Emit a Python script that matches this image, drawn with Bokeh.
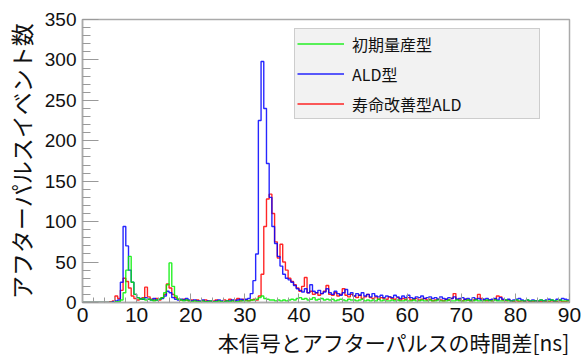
from bokeh.plotting import figure
from bokeh.models import Legend, LegendItem, Range1d, Title, FixedTicker
from bokeh.embed import file_html
from bokeh.resources import INLINE

# Histogram: 0.5 ns bins from 0 to 90 ns
bin_width = 0.5
x_min, x_max = 0, 90

series_names = ["初期量産型", "ALD型", "寿命改善型ALD"]

counts_initial = [
    0, 0, 0, 0, 0, 0, 0, 0, 0, 0,
    0, 0, 1, 1, 3, 12, 40, 57, 25, 10,
    6, 4, 5, 3, 4, 3, 2, 3, 4, 6,
    12, 22, 49, 20, 8, 4, 3, 2, 3, 2,
    1, 2, 1, 1, 2, 1, 1, 2, 1, 1,
    2, 1, 1, 2, 1, 2, 1, 1, 2, 2,
    2, 2, 3, 3, 4, 6, 8, 5, 4, 3,
    3, 2, 3, 2, 3, 2, 3, 4, 3, 5,
    6, 4, 5, 3, 4, 6, 3, 4, 5, 3,
    4, 3, 4, 2, 3, 4, 3, 2, 4, 3,
    3, 2, 3, 4, 2, 3, 2, 3, 2, 4,
    2, 3, 2, 2, 3, 2, 3, 2, 2, 3,
    2, 2, 3, 2, 2, 3, 2, 2, 3, 2,
    2, 3, 2, 2, 2, 3, 2, 2, 3, 2,
    2, 2, 3, 2, 2, 3, 2, 2, 2, 3,
    2, 2, 3, 2, 2, 2, 3, 2, 2, 2,
    3, 2, 2, 2, 3, 2, 2, 2, 2, 3,
    2, 2, 2, 3, 2, 2, 3, 2, 2, 2,
]

counts_ald = [
    0, 0, 0, 0, 0, 0, 0, 0, 0, 0,
    0, 1, 2, 3, 25, 94, 70, 40, 25, 10,
    6, 5, 4, 6, 4, 3, 5, 3, 4, 5,
    8, 14, 12, 6, 4, 3, 4, 3, 5, 3,
    2, 3, 2, 2, 3, 1, 2, 2, 1, 2,
    3, 2, 1, 2, 2, 3, 2, 3, 4, 3,
    4, 5, 11, 27, 60, 225, 298, 240, 172, 130,
    94, 73, 57, 45, 35, 30, 28, 25, 21, 17,
    15, 13, 17, 12, 22, 14, 12, 15, 11, 13,
    17, 12, 10, 14, 11, 9, 12, 16, 10, 12,
    8, 11, 9, 12, 8, 10, 7, 11, 8, 7,
    9, 6, 8, 7, 6, 9, 7, 5, 8, 6,
    9, 6, 5, 7, 6, 8, 5, 6, 7, 5,
    6, 4, 7, 5, 4, 6, 5, 7, 4, 5,
    6, 4, 5, 3, 6, 4, 5, 3, 4, 5,
    3, 4, 5, 3, 6, 4, 3, 4, 2, 3,
    4, 5, 3, 2, 3, 2, 3, 2, 2, 3,
    2, 3, 4, 3, 2, 4, 3, 5, 4, 3,
]

counts_improved = [
    0, 0, 0, 0, 0, 0, 0, 0, 0, 0,
    1, 2, 8, 5, 15, 30, 26, 18, 8, 5,
    3, 4, 6, 19, 7, 4, 3, 5, 3, 6,
    10, 23, 18, 10, 6, 4, 3, 4, 3, 2,
    3, 2, 3, 1, 2, 3, 2, 1, 2, 3,
    2, 1, 3, 2, 4, 2, 3, 5, 2, 4,
    3, 2, 3, 4, 3, 8, 35, 94, 128, 134,
    110, 75, 55, 72, 50, 40, 30, 26, 22, 18,
    14, 20, 31, 12, 14, 10, 12, 9, 11, 14,
    21, 10, 9, 12, 8, 10, 17, 9, 7, 10,
    8, 6, 9, 5, 7, 10, 6, 5, 7, 4,
    6, 5, 4, 7, 5, 4, 6, 3, 5, 4,
    6, 3, 4, 5, 3, 4, 5, 3, 4, 2,
    3, 4, 3, 2, 4, 3, 5, 11, 4, 3,
    2, 4, 3, 2, 3, 4, 10, 5, 3, 2,
    3, 2, 4, 8, 7, 3, 2, 3, 2, 1,
    2, 1, 2, 1, 2, 1, 1, 2, 1, 1,
    2, 1, 1, 2, 1, 1, 2, 1, 1, 2,
]

colors = ["#00ee00", "#0000ff", "#ff0000"]

y_ticks = [0, 50, 100, 150, 200, 250, 300, 350]
x_ticks = [0, 10, 20, 30, 40, 50, 60, 70, 80, 90]

p = figure(width=583, height=356, output_backend="svg", toolbar_location=None,
           x_range=Range1d(x_min, x_max), y_range=Range1d(0, 350),
           min_border_left=79, min_border_right=14, min_border_top=19,
           min_border_bottom=49)
p.background_fill_color = "white"
p.border_fill_color = "white"
p.outline_line_color = "#aaaaaa"
p.outline_line_width = 1.5
p.xgrid.visible = False
p.ygrid.visible = False

def edges_and_steps(counts):
    xs = [x_min + i * bin_width for i in range(len(counts) + 1)]
    ys = list(counts) + [counts[-1]]
    return xs, ys

renderers = {}
# drawing order: red, blue, green (green on top)
for idx in [2, 1, 0]:
    c = [counts_initial, counts_ald, counts_improved][idx]
    xs, ys = edges_and_steps(c)
    r = p.step(xs, ys, mode="after", line_color=colors[idx], line_width=1.4,
               line_alpha=0.85)
    renderers[idx] = r

legend = Legend(items=[LegendItem(label=series_names[i], renderers=[renderers[i]])
                       for i in range(3)])
legend.location = (212, 183)
legend.background_fill_color = "#f2f2f2"
legend.background_fill_alpha = 1.0
legend.border_line_color = "#a8a8a8"
legend.border_line_width = 1
legend.padding = 2
legend.margin = 0
legend.spacing = 5
legend.label_height = 25
legend.glyph_height = 25
legend.glyph_width = 47
legend.label_standoff = 8
legend.label_width = 185
legend.label_text_font = "Noto Sans CJK JP"
legend.label_text_font_size = "16px"
legend.label_text_color = "#111111"
p.add_layout(legend)

# axes styling
for ax in [p.xaxis[0], p.yaxis[0]]:
    ax.axis_line_color = "#aaaaaa"
    ax.axis_line_width = 1.5
    ax.major_tick_line_color = "#999999"
    ax.minor_tick_line_color = "#999999"
    ax.major_tick_out = 0
    ax.minor_tick_out = 0
    ax.major_label_text_font = "Liberation Sans"
    ax.major_label_text_color = "#111111"

p.yaxis.ticker = FixedTicker(ticks=y_ticks,
                             minor_ticks=[v for v in range(0, 351, 10)])
p.xaxis.ticker = FixedTicker(ticks=x_ticks,
                             minor_ticks=[v for v in range(0, 91, 2)])
p.yaxis.major_tick_in = 16
p.yaxis.minor_tick_in = 8
p.xaxis.major_tick_in = 9
p.xaxis.minor_tick_in = 5
p.yaxis.major_label_text_font_size = "19px"
p.xaxis.major_label_text_font_size = "21px"
p.yaxis.major_label_standoff = 6
p.xaxis.major_label_standoff = 5

p.yaxis.axis_label = "アフターパルスイベント数"
p.yaxis.axis_label_text_font = "Noto Sans CJK JP"
p.yaxis.axis_label_text_font_size = "23px"
p.yaxis.axis_label_text_font_style = "normal"
p.yaxis.axis_label_text_color = "#111111"
p.yaxis.axis_label_standoff = 4

xtitle = Title(text="本信号とアフターパルスの時間差[ns]", align="right",
               text_font="Noto Sans CJK JP", text_font_size="21px",
               text_font_style="normal", text_color="#111111",
               standoff=0, offset=0)
p.add_layout(xtitle, "below")

open("out.html", "w").write(file_html(p, INLINE))
